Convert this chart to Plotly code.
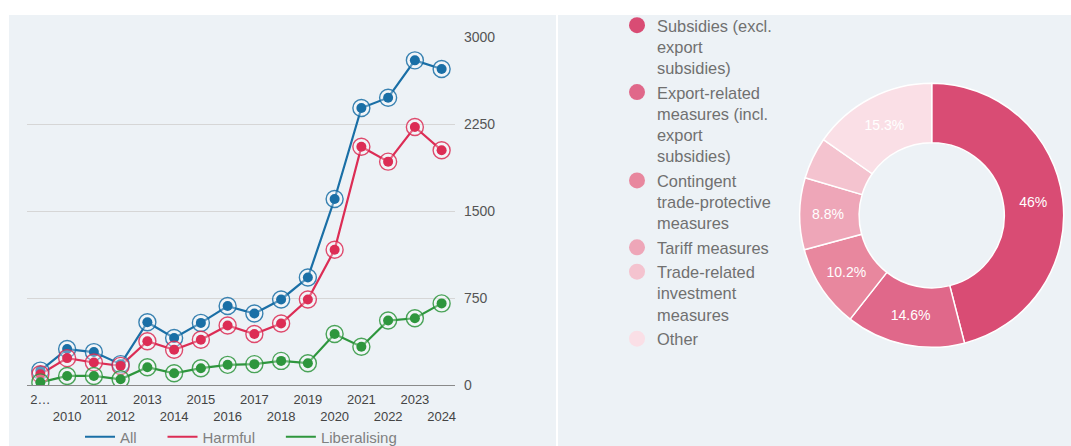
import textwrap
import plotly.graph_objects as go

# ---------------- data ----------------
years = [str(y) for y in range(2009, 2025)]
year_tick_labels = ["2…"] + years[1:]

all_vals = [124, 310, 284, 180, 542, 405, 536, 681, 617, 738, 927, 1605, 2390, 2479, 2801, 2726]
harmful_vals = [93, 232, 194, 165, 377, 304, 391, 513, 440, 530, 738, 1167, 2056, 1927, 2226, 2025]
liberalising_vals = [23, 78, 78, 49, 153, 101, 145, 174, 180, 208, 188, 440, 330, 556, 576, 704]

series_names = ["All", "Harmful", "Liberalising"]
series_colors = ["#1a6fa6", "#dc2d55", "#2e963d"]

pie_labels = [
    "Subsidies (excl. export subsidies)",
    "Export-related measures (incl. export subsidies)",
    "Contingent trade-protective measures",
    "Tariff measures",
    "Trade-related investment measures",
    "Other",
]
pie_values = [46, 14.6, 10.2, 8.8, 5.1, 15.3]
pie_colors = ["#d94c74", "#e0688a", "#e8879e", "#eea6b8", "#f4c3cf", "#fadfe6"]

y_ticks = [0, 750, 1500, 2250, 3000]

# ---------------- figure ----------------
W, H = 1071, 446
BG = "#edf2f6"
FONT = "Liberation Sans, Arial, sans-serif"

fig = go.Figure()

series_vals = [all_vals, harmful_vals, liberalising_vals]
n_series = len(series_names)
for i, (name, vals, col) in enumerate(zip(series_names, series_vals, series_colors)):
    legend_name = name + ("\u00a0" * 5 if i < n_series - 1 else "")
    fig.add_trace(go.Scatter(
        x=years, y=vals, mode="lines", name=legend_name,
        line=dict(color=col, width=2.2), legend="legend",
        hoverinfo="skip",
    ))
for name, vals, col in zip(series_names, series_vals, series_colors):
    fig.add_trace(go.Scatter(
        x=years, y=vals, mode="markers", name=name, showlegend=False,
        marker=dict(size=17, color="rgba(255,255,255,0.35)",
                    line=dict(color=col, width=1.4), opacity=0.85),
        hoverinfo="skip",
    ))
    fig.add_trace(go.Scatter(
        x=years, y=vals, mode="markers", name=name, showlegend=False,
        marker=dict(size=10, color=col, line=dict(width=0)),
    ))

# pie legend entries (circle symbols)
wrapped = ["<br>".join(textwrap.wrap(l, width=16, break_on_hyphens=False)) for l in pie_labels]
for lab, col in zip(wrapped, pie_colors):
    fig.add_trace(go.Scatter(
        x=[None], y=[None], mode="markers", name=lab, legend="legend2",
        marker=dict(size=16, color=col),
    ))

pie_text = [f"{v:g}%" if v >= 6 else "" for v in pie_values]
cx, cy, r = 931.7, 215.3, 132
fig.add_trace(go.Pie(
    labels=pie_labels, values=pie_values, text=pie_text,
    texttemplate="%{text}", textposition="inside",
    insidetextorientation="horizontal",
    textfont=dict(color="white", size=14, family=FONT),
    marker=dict(colors=pie_colors, line=dict(color="white", width=1.5)),
    hole=0.55, sort=False, direction="clockwise", rotation=0,
    showlegend=False,
    domain=dict(x=[(cx - r) / W, (cx + r) / W],
                y=[(H - cy - r) / H, (H - cy + r) / H]),
))

tick_text = [t if i % 2 == 0 else "<br>" + t for i, t in enumerate(year_tick_labels)]

fig.update_layout(
    width=W, height=H,
    margin=dict(l=0, r=0, t=0, b=0, autoexpand=False),
    paper_bgcolor="white",
    plot_bgcolor="rgba(0,0,0,0)",
    font=dict(family=FONT, color="#555555"),
    xaxis=dict(
        domain=[27 / W, 455 / W], type="category", range=[-0.5, 15.5],
        tickmode="array", tickvals=years, ticktext=tick_text, tickangle=0,
        showgrid=False, showline=False, zeroline=False, ticks="",
        ticklabelstandoff=5,
        tickfont=dict(size=13, color="#444444"), fixedrange=True,
        automargin=False,
    ),
    yaxis=dict(
        domain=[(H - 385) / H, (H - 37.3) / H], range=[0, 3000],
        tickmode="array", tickvals=y_ticks, side="right",
        showgrid=True, gridcolor="#d6d6d6", gridwidth=1,
        zeroline=True, zerolinecolor="#8a8a8a", zerolinewidth=1,
        showline=False, ticks="", ticklabelstandoff=8,
        tickfont=dict(size=14, color="#555555"), fixedrange=True,
        automargin=False,
    ),
    legend=dict(
        orientation="h", xref="container", yref="container",
        x=80 / W, xanchor="left", y=(H - 437) / H, yanchor="middle",
        font=dict(size=15, color="#808080"), bgcolor="rgba(0,0,0,0)",
        traceorder="normal",
    ),
    legend2=dict(
        orientation="v", xref="container", yref="container",
        x=617 / W, xanchor="left", y=(H - 8) / H, yanchor="top",
        font=dict(size=16.4, color="#707070"), bgcolor="rgba(0,0,0,0)",
        valign="top", itemsizing="trace", tracegroupgap=0, maxheight=440,
    ),
    shapes=[
        dict(type="rect", xref="paper", yref="paper", layer="below",
             x0=9 / W, x1=556 / W, y0=0, y1=(H - 15) / H,
             fillcolor=BG, line=dict(width=0)),
        dict(type="rect", xref="paper", yref="paper", layer="below",
             x0=558 / W, x1=1, y0=0, y1=(H - 15) / H,
             fillcolor=BG, line=dict(width=0)),
    ],
)

fig.write_html(
    "out.html",
    config={"displayModeBar": False},
    post_script="document.body.style.margin='0';document.body.style.padding='0';",
)
